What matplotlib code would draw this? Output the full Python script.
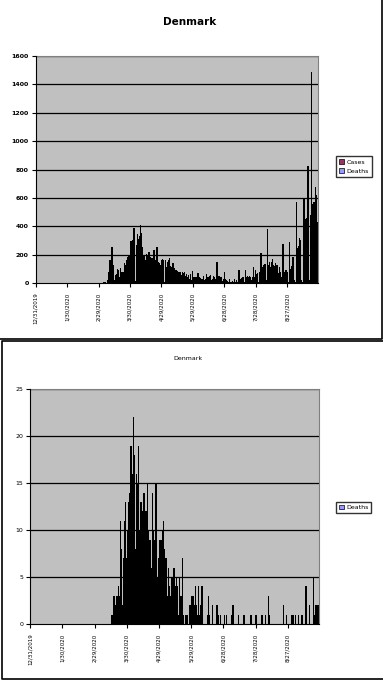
import matplotlib
matplotlib.use('Agg')
import matplotlib.pyplot as plt
import numpy as np
import pandas as pd
from matplotlib.patches import Patch
from matplotlib.lines import Line2D

plt.rcParams['font.family'] = ['DejaVu Sans']

# daily values from 12/31/2019, 269 days
dates = pd.date_range('2019-12-31', periods=269, freq='D')

cases = [0] * 58 + [
    1, 0, 0, 1, 2, 1, 5, 10, 8, 3, 20,
    80, 160, 165, 255, 130, 20, 55, 60, 100, 95,
    40, 105, 80, 75, 80, 140, 130, 165, 180, 200,
    190, 295, 260, 300, 390, 10, 270, 345, 310, 330,
    410, 350, 255, 200, 200, 160, 205, 190, 215, 215,
    185, 175, 150, 235, 165, 155, 255, 150, 140, 130,
    165, 170, 165, 5, 160, 110, 150, 165, 175, 120,
    110, 140, 105, 95, 90, 85, 60, 75, 80, 55,
    80, 70, 75, 50, 65, 45, 55, 30, 60, 20,
    85, 45, 40, 45, 40, 70, 45, 35, 30, 25,
    50, 20, 30, 60, 45, 40, 50, 55, 20, 30,
    50, 40, 30, 145, 20, 50, 10, 40, 15, 30,
    80, 25, 20, 15, 10, 25, 10, 5, 15, 10,
    30, 5, 20, 10, 95, 15, 30, 35, 45, 10,
    95, 40, 50, 45, 50, 45, 20, 40, 115, 45,
    90, 65, 70, 10, 80, 210, 75, 115, 125, 135,
    20, 380, 125, 150, 110, 150, 170, 130, 120, 140,
    130, 125, 70, 115, 80, 40, 275, 80, 60, 95,
    75, 10, 290, 100, 120, 185, 180, 20, 10, 570,
    250, 260, 320, 300, 20, 10, 590, 330, 450, 460,
    825, 20, 480, 1485, 560, 570, 570, 680, 620, 430,
]

deaths = [0] * 75 + [
    1, 0, 3, 0, 2, 3, 4, 3, 11, 8,
    2, 7, 11, 13, 7, 10, 13, 14, 19, 16,
    22, 18, 8, 16, 15, 19, 10, 13, 12, 12,
    14, 10, 12, 15, 10, 9, 9, 6, 14, 10,
    9, 15, 4, 5, 7, 9, 9, 10, 11, 8,
    7, 7, 3, 6, 4, 3, 5, 4, 6, 4,
    5, 4, 1, 5, 3, 3, 7, 1, 0, 1,
    1, 0, 0, 2, 3, 3, 3, 2, 4, 2,
    1, 4, 1, 2, 4, 0, 0, 0, 0, 1,
    3, 1, 0, 0, 2, 0, 0, 0, 2, 1,
    0, 1, 0, 0, 0, 1, 0, 1, 0, 0,
    0, 0, 1, 2, 0, 0, 0, 0, 1, 0,
    0, 0, 0, 1, 0, 0, 0, 0, 0, 1,
    1, 0, 0, 0, 1, 1, 0, 0, 0, 0,
    1, 0, 0, 1, 0, 0, 3, 1, 0, 0,
    0, 0, 0, 0, 0, 0, 0, 0, 0, 0,
    2, 0, 0, 1, 0, 0, 0, 0, 1, 1,
    0, 1, 0, 0, 1, 0, 0, 1, 0, 0,
    0, 4, 0, 0, 2, 0, 0, 0, 5, 1,
    2, 2, 2, 1,
]

cases_color = '#993366'
deaths_color = '#9999ff'
W, H = 383, 680

x = np.arange(len(dates))
tick_pos = np.arange(0, len(dates), 30)
tick_lab = [f"{d.month}/{d.day}/{d.year}" for d in dates[tick_pos]]


def style_ax(ax, ymax, ystep, bold):
    ax.set_facecolor('#c0c0c0')
    ax.set_xlim(-0.5, len(dates) - 0.5)
    ax.set_ylim(0, ymax)
    yt = np.arange(0, ymax + 1, ystep)
    ax.set_yticks(yt)
    ax.set_yticklabels([str(v) for v in yt], fontsize=4.5,
                       fontweight='bold' if bold else 'normal')
    for v in yt[1:]:
        ax.axhline(v, color='black', lw=0.9, zorder=1)
    ax.set_xticks(tick_pos - 0.5)
    ax.set_xticklabels(tick_lab, rotation=90, fontsize=4, va='top')
    ax.tick_params(length=3, width=0.8, pad=2, color='black')
    ax.tick_params(axis='x', pad=4)
    for s in ['top', 'right']:
        ax.spines[s].set_color('#808080')
        ax.spines[s].set_linewidth(0.8)
    for s in ['left', 'bottom']:
        ax.spines[s].set_color('black')
        ax.spines[s].set_linewidth(0.8)
        ax.spines[s].set_zorder(5)


fig = plt.figure(figsize=(W / 100, H / 100), dpi=100)

# top chart: clustered columns, thin with black borders so they read as black
ax1 = fig.add_axes([35.7 / W, 1 - 283 / H, 282 / W, 227 / H])
ax1.bar(x - 0.15, cases, width=0.3, color='black', edgecolor='black', lw=0.5,
        antialiased=False, zorder=2)
ax1.bar(x + 0.15, deaths, width=0.3, color='black', edgecolor='black', lw=0.5,
        antialiased=False, zorder=3)
style_ax(ax1, 1600, 200, True)
fig.text(190 / W, 1 - 22 / H, 'Denmark', ha='center', va='center',
         fontsize=7.5, fontweight='bold')
fig.legend(handles=[Patch(facecolor=cases_color, edgecolor='black', lw=0.5, label='Cases'),
                    Patch(facecolor=deaths_color, edgecolor='black', lw=0.5, label='Deaths')],
           loc='upper left', bbox_to_anchor=(336 / W, 1 - 156 / H), fontsize=4.5,
           frameon=True, fancybox=False, edgecolor='black', handlelength=0.8,
           handleheight=0.8, handletextpad=0.4, borderpad=0.5, labelspacing=0.6,
           borderaxespad=0)

# bottom chart: deaths only
ax2 = fig.add_axes([30.3 / W, 1 - 624 / H, 288.7 / W, 234.7 / H])
ax2.bar(x, deaths, width=0.4, color='black', edgecolor='black', lw=0.5,
        antialiased=False, zorder=2)
style_ax(ax2, 25, 5, False)
fig.text(188 / W, 1 - 359 / H, 'Denmark', ha='center', va='center', fontsize=4.5)
fig.legend(handles=[Patch(facecolor=deaths_color, edgecolor='black', lw=0.5, label='Deaths')],
           loc='upper left', bbox_to_anchor=(336 / W, 1 - 502 / H), fontsize=4.5,
           frameon=True, fancybox=False, edgecolor='black', handlelength=0.8,
           handleheight=0.8, handletextpad=0.4, borderpad=0.4, borderaxespad=0)

# chart frames
fig.add_artist(Line2D([0, 381.5 / W, 381.5 / W], [1 - 338.5 / H, 1 - 338.5 / H, 1],
                      transform=fig.transFigure, color='black', lw=1.2))
fig.add_artist(Line2D([1, 2 / W, 2 / W, 1], [1 - 341 / H, 1 - 341 / H, 1 - 679 / H, 1 - 679 / H],
                      transform=fig.transFigure, color='black', lw=1.2))

fig.savefig('out.png', dpi=100)
